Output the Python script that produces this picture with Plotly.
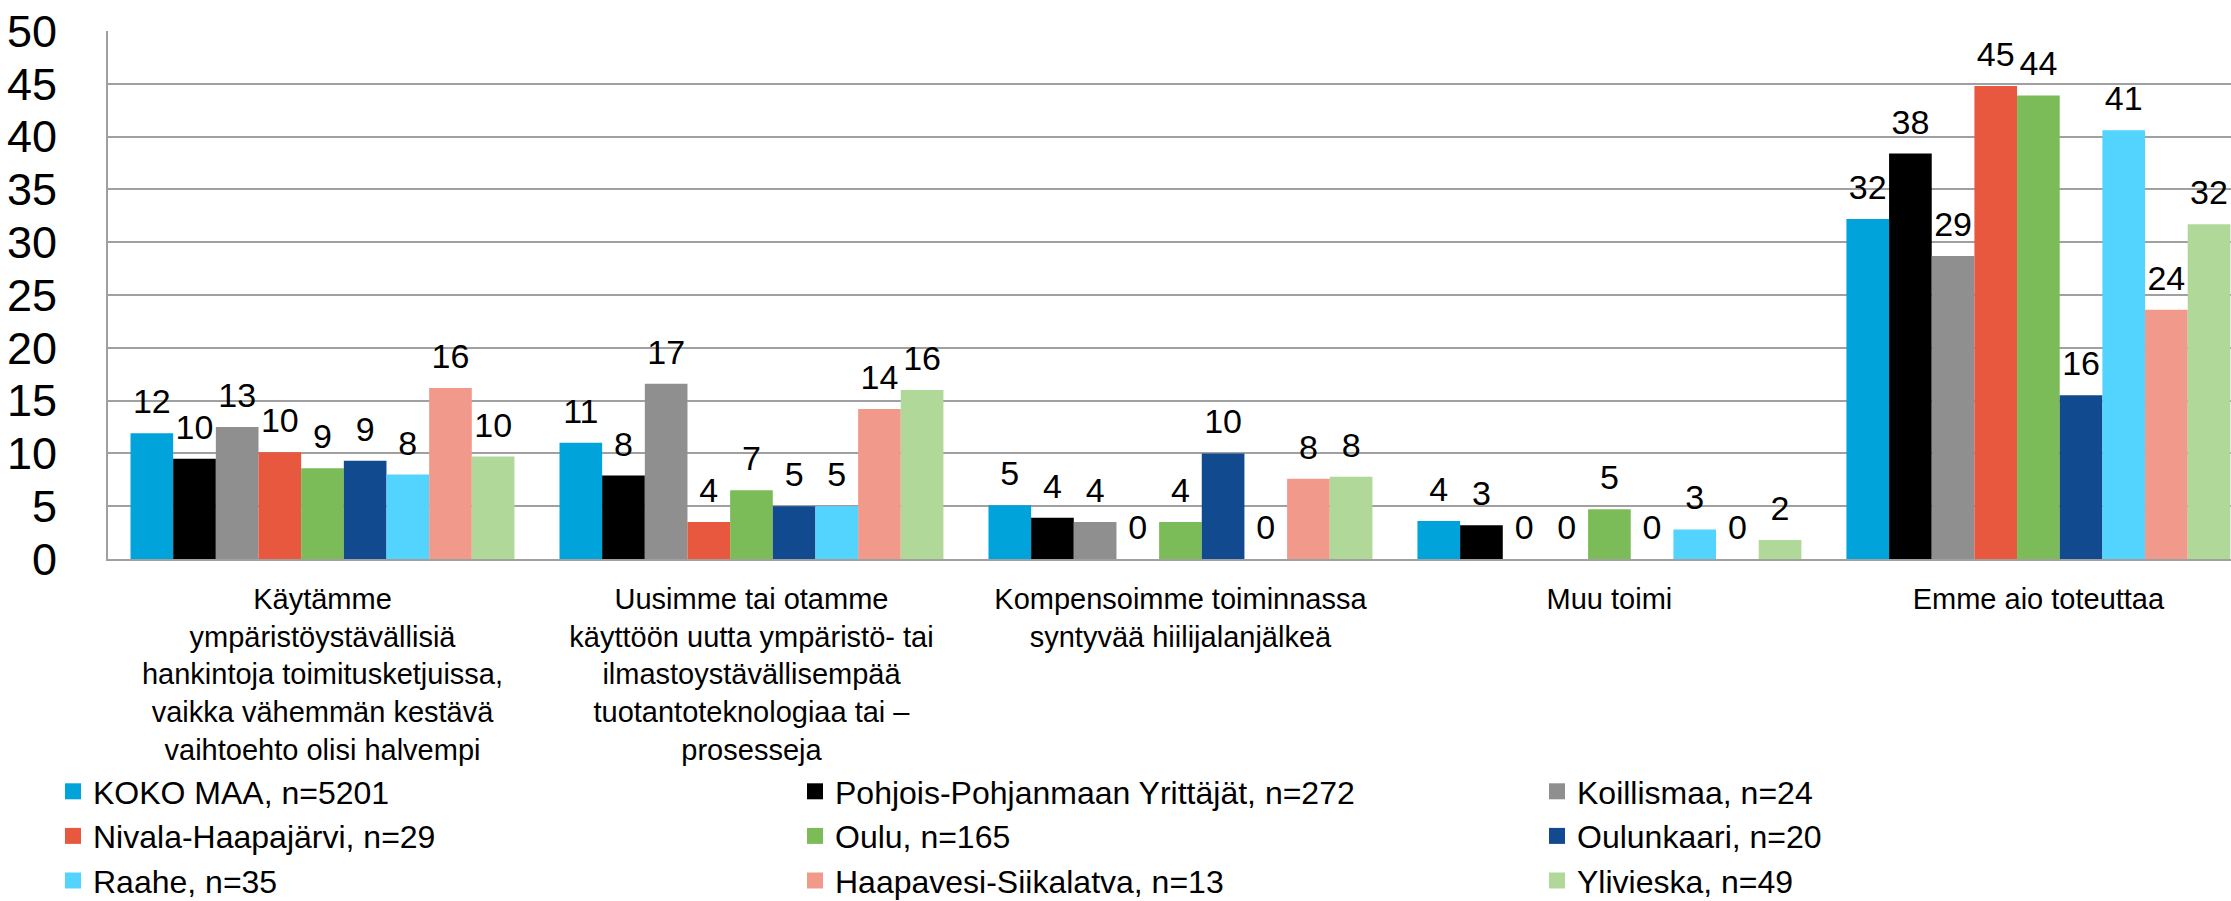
import plotly.graph_objects as go

categories = [
    "Käytämme<br>ympäristöystävällisiä<br>hankintoja toimitusketjuissa,<br>vaikka vähemmän kestävä<br>vaihtoehto olisi halvempi",
    "Uusimme tai otamme<br>käyttöön uutta ympäristö- tai<br>ilmastoystävällisempää<br>tuotantoteknologiaa tai –<br>prosesseja",
    "Kompensoimme toiminnassa<br>syntyvää hiilijalanjälkeä",
    "Muu toimi",
    "Emme aio toteuttaa",
]

series_names = [
    "KOKO MAA, n=5201",
    "Pohjois-Pohjanmaan Yrittäjät, n=272",
    "Koillismaa, n=24",
    "Nivala-Haapajärvi, n=29",
    "Oulu, n=165",
    "Oulunkaari, n=20",
    "Raahe, n=35",
    "Haapavesi-Siikalatva, n=13",
    "Ylivieska, n=49",
]

koko_maa = [11.9, 11.0, 5.1, 3.6, 32.2]
pohjois_pohjanmaa = [9.5, 7.9, 3.9, 3.2, 38.4]
koillismaa = [12.5, 16.6, 3.5, 0, 28.7]
nivala_haapajarvi = [10.1, 3.5, 0, 0, 44.8]
oulu = [8.6, 6.5, 3.5, 4.7, 43.9]
oulunkaari = [9.3, 5.0, 10.0, 0, 15.5]
raahe = [8.0, 5.0, 0, 2.8, 40.6]
haapavesi_siikalatva = [16.2, 14.2, 7.6, 0, 23.6]
ylivieska = [9.7, 16.0, 7.8, 1.8, 31.7]

series_values = [koko_maa, pohjois_pohjanmaa, koillismaa, nivala_haapajarvi, oulu,
                 oulunkaari, raahe, haapavesi_siikalatva, ylivieska]

colors = ["#00A3DA", "#000000", "#8F8F8F", "#E8583E", "#7BBC58",
          "#114A8E", "#52D4FF", "#F19A8B", "#B0D898"]

y_ticks = [0, 5, 10, 15, 20, 25, 30, 35, 40, 45, 50]

FONT = "Liberation Sans, Arial, sans-serif"

# a tall hair-space on both sides lifts the value label a little higher above its bar
PAD = "<span style='font-size:80px'>\u200a</span>"

fig = go.Figure()
for name, vals, col in zip(series_names, series_values, colors):
    fig.add_trace(go.Bar(
        x=list(range(len(categories))), y=vals, name=name,
        marker=dict(color=col, line=dict(width=0)),
        texttemplate=PAD + "%{y:.0f}" + PAD, textposition="outside",
        textfont=dict(size=34, color="black", family=FONT),
        constraintext="none",
        cliponaxis=False,
        legendgroup=name, showlegend=False,
    ))
# legend entries (larger square swatches than plotly's bar swatch)
for name, col in zip(series_names, colors):
    fig.add_trace(go.Scatter(
        x=[None], y=[None], mode="markers", name=name,
        marker=dict(symbol="square", size=16, color=col),
        legendgroup=name, showlegend=True, hoverinfo="skip",
    ))

fig.update_layout(
    width=2231, height=901,
    barmode="group", bargap=0.105, bargroupgap=0,
    plot_bgcolor="white", paper_bgcolor="white",
    margin=dict(l=108, r=0, t=31, b=342, autoexpand=False),
    font=dict(family=FONT, color="black"),
    showlegend=True,
    legend=dict(
        orientation="h",
        x=(53 - 108) / 2123, y=-205 / 528, xanchor="left", yanchor="top",
        font=dict(size=32, color="black", family=FONT),
        entrywidth=697, entrywidthmode="pixels",
        traceorder="normal", bgcolor="rgba(0,0,0,0)",
    ),
)

fig.update_xaxes(
    tickmode="array", tickvals=list(range(len(categories))), ticktext=categories,
    range=[-0.5, 4.449],
    showline=True, linecolor="#A0A0A0", linewidth=2,
    showgrid=False, ticks="", ticklabelstandoff=13,
    tickfont=dict(size=29, color="black", family=FONT),
    tickangle=0,
)
fig.update_yaxes(
    range=[0, 50], tickmode="array", tickvals=y_ticks,
    showgrid=True, gridcolor="#A0A0A0", gridwidth=2,
    showline=True, linecolor="#A0A0A0", linewidth=2,
    zeroline=False, ticks="", ticklabelstandoff=40,
    tickfont=dict(size=45, color="black", family=FONT),
)

fig.write_html(
    "out.html",
    config={"displayModeBar": False},
    post_script="document.body.style.margin='0';document.body.style.overflow='hidden';",
)
